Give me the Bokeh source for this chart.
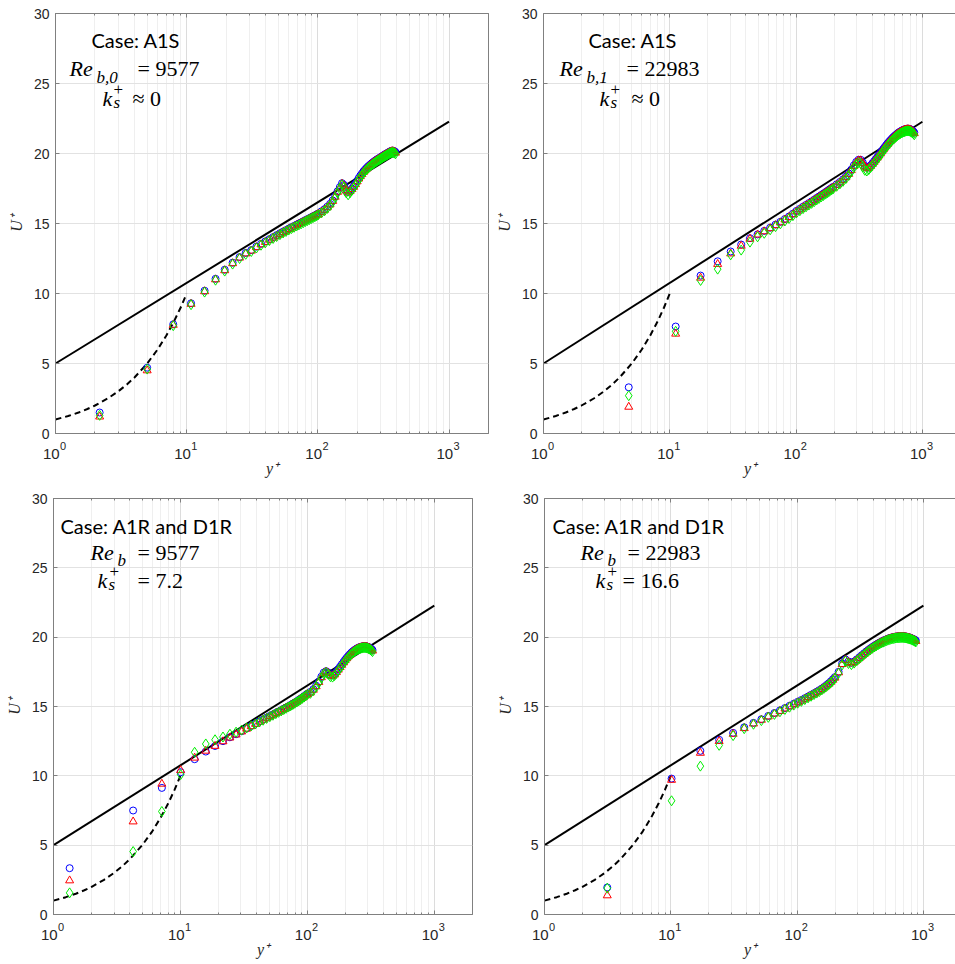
from bokeh.plotting import figure
from bokeh.layouts import column, row
from bokeh.models import Range1d, FixedTicker, LogAxis, CustomJSTickFormatter, Label
from bokeh.embed import file_html
from bokeh.resources import INLINE

# ---------------- axis ticks ----------------
X_MAJOR = [1, 10, 100, 1000]
X_EXPONENTS = ["0", "1", "2", "3"]
X_MINOR = [m * 10 ** e for e in range(4) for m in range(2, 10)]
Y_TICKS = [0, 5, 10, 15, 20, 25, 30]

# ---------------- reference curves ----------------
LOGLAW_Y = [1, 1000]
LOGLAW_U = [5.0, 22.27]
VISC_Y = [1, 1.25, 1.5, 1.75, 2, 2.5, 3, 3.5, 4, 5, 6, 7, 8, 9, 10]
VISC_U = [1, 1.25, 1.5, 1.75, 2, 2.5, 3, 3.5, 4, 5, 6, 7, 8, 9, 10]

# ---------------- panel A1S, Re_b,0 = 9577 ----------------
TL_Y = [2.17, 5.0, 7.9, 10.8, 13.7, 16.6, 19.5, 22.4, 25.3, 28.2, 31.1, 34.0, 36.9, 39.8, 42.7,
        45.6, 48.5, 51.4, 54.3, 57.2, 60.1, 63.0, 65.9, 68.8, 71.7, 74.6, 77.5, 80.4, 83.3, 86.2,
        89.1, 92.0, 94.9, 97.8, 100.7,
        106.5, 112.3, 118.1, 123.9, 129.7, 135.5, 141.3, 147.1, 152.9, 158.7, 164.5, 170.3, 176.1,
        181.9, 187.7, 193.5, 199.3, 205.1, 210.9, 216.7, 222.5, 228.3, 234.1, 239.9, 245.7, 251.5,
        257.3, 263.1, 268.9, 274.7, 280.5, 286.3, 292.1, 297.9, 303.7, 309.5, 315.3, 321.1, 326.9,
        332.7, 338.5, 344.3, 350.1, 355.9, 361.7, 367.5, 373.3, 379.1, 384.9, 390.7]
TL_BLUE = [1.5, 4.7, 7.8, 9.3, 10.2, 11.05, 11.7, 12.2, 12.6, 12.9, 13.1, 13.35, 13.55, 13.72, 13.88,
           14.03, 14.17, 14.3, 14.42, 14.53, 14.64, 14.74, 14.83, 14.92, 15.0, 15.08, 15.16, 15.24,
           15.31, 15.38, 15.45, 15.52, 15.58, 15.65, 15.72,
           15.87, 16.02, 16.2, 16.4, 16.65, 16.95, 17.3, 17.6, 17.88, 17.75, 17.4, 17.25, 17.35, 17.5,
           17.66, 17.85, 18.05, 18.25, 18.42, 18.57, 18.72, 18.84, 18.95, 19.05, 19.14, 19.22, 19.3,
           19.37, 19.44, 19.5, 19.56, 19.61, 19.66, 19.71, 19.76, 19.81, 19.86, 19.91, 19.95, 19.99,
           20.03, 20.07, 20.11, 20.15, 20.18, 20.2, 20.2, 20.18, 20.15, 20.1]
TL_RED = [1.2, 4.5, 7.75, 9.25, 10.15, 11.0, 11.65, 12.15, 12.55, 12.85, 13.05, 13.3, 13.5, 13.67,
          13.83, 13.98, 14.12, 14.25, 14.37, 14.48, 14.59, 14.69, 14.78, 14.87, 14.95, 15.03, 15.11,
          15.19, 15.26, 15.33, 15.4, 15.47, 15.53, 15.6, 15.67,
          15.82, 15.97, 16.15, 16.35, 16.6, 16.9, 17.25, 17.55, 17.83, 17.7, 17.35, 17.2, 17.3, 17.45,
          17.61, 17.8, 18.0, 18.2, 18.37, 18.52, 18.67, 18.79, 18.9, 19.0, 19.09, 19.17, 19.25,
          19.32, 19.39, 19.45, 19.51, 19.56, 19.61, 19.66, 19.71, 19.76, 19.81, 19.86, 19.9, 19.94,
          19.98, 20.02, 20.06, 20.1, 20.13, 20.15, 20.15, 20.13, 20.1, 20.05]
TL_GREEN = [1.3, 4.6, 7.7, 9.2, 10.1, 10.95, 11.6, 12.1, 12.5, 12.8, 13.0, 13.25, 13.45, 13.62, 13.78,
            13.93, 14.07, 14.2, 14.32, 14.43, 14.54, 14.64, 14.73, 14.82, 14.9, 14.98, 15.06, 15.14,
            15.21, 15.28, 15.35, 15.42, 15.48, 15.55, 15.62,
            15.75, 15.9, 16.08, 16.28, 16.53, 16.83, 17.18, 17.48, 17.76, 17.6, 17.2, 17.05, 17.2,
            17.38, 17.54, 17.73, 17.93, 18.13, 18.3, 18.45, 18.6, 18.72, 18.83, 18.93, 19.02, 19.1,
            19.18, 19.25, 19.32, 19.38, 19.44, 19.49, 19.54, 19.59, 19.64, 19.69, 19.74, 19.79, 19.83,
            19.87, 19.91, 19.95, 19.99, 20.03, 20.06, 20.08, 20.08, 20.06, 20.03, 19.98]

# ---------------- panel A1S, Re_b,1 = 22983 ----------------
TR_Y = [4.73, 11.13, 17.53, 23.93, 30.33, 36.73, 43.13, 49.53, 55.93, 62.33, 68.73, 75.13, 81.53,
        87.93, 94.33, 100.73,
        107.1, 113.5, 119.9, 126.3, 132.7, 139.1, 145.5, 151.9, 158.3, 164.7, 171.1, 177.5, 183.9,
        190.3, 196.7,
        209.5, 222.3, 235.1, 247.9, 260.7, 273.5, 286.3, 299.1, 311.9, 324.7, 337.5, 350.3, 363.1,
        375.9, 388.7, 401.5, 414.3, 427.1, 439.9, 452.7, 465.5, 478.3, 491.1, 503.9, 516.7, 529.5,
        542.3, 555.1, 567.9, 580.7, 593.5, 606.3, 619.1, 631.9, 644.7, 657.5, 670.3, 683.1, 695.9,
        708.7, 721.5, 734.3, 747.1, 759.9, 772.7, 785.5, 798.3, 811.1, 823.9, 836.7, 849.5, 862.3]
TR_BLUE = [3.3, 7.64, 11.28, 12.3, 13.0, 13.5, 13.95, 14.22, 14.47, 14.7, 14.92, 15.12, 15.32, 15.5,
           15.7, 15.9,
           16.05, 16.2, 16.33, 16.46, 16.58, 16.7, 16.82, 16.93, 17.04, 17.14, 17.24, 17.34, 17.44,
           17.53, 17.62,
           17.8, 17.97, 18.15, 18.35, 18.58, 18.85, 19.15, 19.4, 19.55, 19.55, 19.35, 19.1, 18.98,
           19.02, 19.15, 19.3, 19.45, 19.6, 19.75, 19.9, 20.05, 20.2, 20.34, 20.47, 20.6, 20.72,
           20.83, 20.93, 21.03, 21.12, 21.2, 21.28, 21.35, 21.42, 21.48, 21.53, 21.58, 21.62, 21.66,
           21.69, 21.72, 21.74, 21.76, 21.77, 21.77, 21.76, 21.74, 21.71, 21.67, 21.62, 21.56, 21.49]
TR_RED = [1.9, 7.12, 11.12, 12.1, 12.85, 13.4, 13.9, 14.2, 14.43, 14.65, 14.87, 15.07, 15.27, 15.45,
          15.65, 15.85,
          16.0, 16.15, 16.28, 16.41, 16.53, 16.65, 16.77, 16.88, 16.99, 17.09, 17.19, 17.29, 17.39,
          17.48, 17.57,
          17.75, 17.92, 18.1, 18.3, 18.53, 18.8, 19.1, 19.35, 19.5, 19.5, 19.3, 19.05, 18.93, 18.97,
          19.1, 19.25, 19.4, 19.55, 19.7, 19.85, 20.0, 20.15, 20.29, 20.42, 20.55, 20.67, 20.78,
          20.88, 20.98, 21.07, 21.15, 21.23, 21.3, 21.37, 21.43, 21.48, 21.53, 21.57, 21.61, 21.64,
          21.67, 21.69, 21.71, 21.72, 21.72, 21.71, 21.69, 21.66, 21.62, 21.57, 21.51, 21.44]
TR_GREEN = [2.7, 7.3, 10.93, 11.74, 12.76, 13.1, 13.67, 14.05, 14.3, 14.55, 14.78, 14.98, 15.18,
            15.36, 15.56, 15.76,
            15.91, 16.06, 16.19, 16.32, 16.44, 16.56, 16.68, 16.79, 16.9, 17.0, 17.1, 17.2, 17.3,
            17.39, 17.48,
            17.66, 17.83, 18.01, 18.21, 18.44, 18.71, 19.0, 19.22, 19.35, 19.3, 19.05, 18.8, 18.75,
            18.85, 19.0, 19.15, 19.3, 19.45, 19.6, 19.75, 19.9, 20.05, 20.19, 20.32, 20.45, 20.57,
            20.68, 20.78, 20.88, 20.97, 21.05, 21.13, 21.2, 21.27, 21.33, 21.38, 21.43, 21.47, 21.51,
            21.54, 21.57, 21.59, 21.61, 21.62, 21.62, 21.61, 21.59, 21.56, 21.52, 21.47, 21.41, 21.34]

# ---------------- panel A1R and D1R, Re_b = 9577 ----------------
BL_Y = [1.34, 4.24, 7.14, 10.04, 12.94, 15.84, 18.74, 21.64, 24.54, 27.44, 30.34, 33.24, 36.14,
        39.04, 41.94, 44.84, 47.74, 50.64, 53.54, 56.44, 59.34, 62.24, 65.14, 68.04, 70.94, 73.84,
        76.74, 79.64, 82.54, 85.44, 88.34, 91.24, 94.14, 97.04, 99.94,
        105.7, 111.5, 117.3, 123.1, 128.9, 134.7, 140.5, 146.3, 152.1, 157.9, 163.7, 169.5, 175.3,
        181.1, 186.9, 192.7, 198.5, 204.3, 210.1, 215.9, 221.7, 227.5, 233.3, 239.1, 244.9, 250.7,
        256.5, 262.3, 268.1, 273.9, 279.7, 285.5, 291.3, 297.1, 302.9, 308.7, 314.5, 320.3, 326.1]
BL_BLUE = [3.34, 7.5, 9.13, 10.26, 11.2, 11.75, 12.15, 12.5, 12.78, 13.0, 13.22, 13.42, 13.6, 13.77,
           13.93, 14.07, 14.2, 14.32, 14.43, 14.54, 14.64, 14.74, 14.84, 14.93, 15.02, 15.11, 15.2,
           15.29, 15.38, 15.47, 15.56, 15.65, 15.74, 15.83, 15.92,
           16.05, 16.25, 16.5, 16.8, 17.15, 17.45, 17.55, 17.45, 17.28, 17.25, 17.35, 17.52, 17.7,
           17.88, 18.05, 18.22, 18.38, 18.52, 18.65, 18.77, 18.88, 18.97, 19.05, 19.12, 19.18, 19.23,
           19.27, 19.3, 19.32, 19.34, 19.35, 19.35, 19.34, 19.32, 19.29, 19.25, 19.2, 19.14, 19.07]
BL_RED = [2.45, 6.7, 9.42, 10.4, 11.3, 11.8, 12.15, 12.48, 12.75, 12.97, 13.19, 13.39, 13.57, 13.74,
          13.9, 14.04, 14.17, 14.29, 14.4, 14.51, 14.61, 14.71, 14.81, 14.9, 14.99, 15.08, 15.17,
          15.26, 15.35, 15.44, 15.53, 15.62, 15.71, 15.8, 15.89,
          16.0, 16.2, 16.45, 16.75, 17.1, 17.4, 17.5, 17.4, 17.23, 17.2, 17.3, 17.47, 17.65, 17.83,
          18.0, 18.17, 18.33, 18.47, 18.6, 18.72, 18.83, 18.92, 19.0, 19.07, 19.13, 19.18, 19.22,
          19.25, 19.27, 19.29, 19.3, 19.3, 19.29, 19.27, 19.24, 19.2, 19.15, 19.09, 19.02]
BL_GREEN = [1.56, 4.54, 7.43, 10.09, 11.7, 12.3, 12.6, 12.8, 13.0, 13.15, 13.3, 13.45, 13.6, 13.74,
            13.88, 14.01, 14.14, 14.26, 14.37, 14.48, 14.58, 14.68, 14.78, 14.87, 14.96, 15.05,
            15.14, 15.23, 15.32, 15.41, 15.5, 15.59, 15.68, 15.77, 15.86,
            15.95, 16.15, 16.4, 16.7, 17.05, 17.35, 17.45, 17.32, 17.15, 17.12, 17.23, 17.41, 17.59,
            17.77, 17.94, 18.11, 18.27, 18.41, 18.54, 18.66, 18.77, 18.86, 18.94, 19.01, 19.07,
            19.12, 19.16, 19.19, 19.21, 19.23, 19.24, 19.24, 19.23, 19.21, 19.18, 19.14, 19.09,
            19.03, 18.96]

# ---------------- panel A1R and D1R, Re_b = 22983 ----------------
BR_Y = [3.14, 10.14, 17.14, 24.14, 31.14, 38.14, 45.14, 52.14, 59.14, 66.14, 73.14, 80.14, 87.14,
        94.14, 101.1, 108.1, 115.1, 122.1, 129.1, 136.1, 143.1, 150.1, 157.1, 164.1, 171.1, 178.1,
        185.1, 192.1, 199.1,
        213.1, 227.1, 241.1, 255.1, 269.1, 283.1, 297.1, 311.1, 325.1, 339.1, 353.1, 367.1, 381.1,
        395.1, 409.1, 423.1, 437.1, 451.1, 465.1, 479.1, 493.1, 507.1, 521.1, 535.1, 549.1, 563.1,
        577.1, 591.1, 605.1, 619.1, 633.1, 647.1, 661.1, 675.1, 689.1, 703.1, 717.1, 731.1, 745.1,
        759.1, 773.1, 787.1, 801.1, 815.1, 829.1, 843.1, 857.1, 871.1]
BR_BLUE = [1.95, 9.8, 11.8, 12.6, 13.1, 13.5, 13.82, 14.08, 14.32, 14.53, 14.72, 14.89, 15.05, 15.2,
           15.34, 15.47, 15.6, 15.72, 15.84, 15.96, 16.07, 16.18, 16.3, 16.42, 16.55, 16.68, 16.82,
           16.97, 17.12,
           17.5, 18.1, 18.4, 18.25, 18.15, 18.25, 18.4, 18.55, 18.7, 18.84, 18.97, 19.09, 19.2, 19.3,
           19.39, 19.47, 19.55, 19.62, 19.68, 19.74, 19.79, 19.84, 19.88, 19.92, 19.95, 19.98, 20.0,
           20.02, 20.04, 20.05, 20.06, 20.07, 20.07, 20.07, 20.07, 20.06, 20.05, 20.04, 20.02, 20.0,
           19.98, 19.96, 19.93, 19.9, 19.87, 19.84, 19.8, 19.76]
BR_RED = [1.37, 9.7, 11.65, 12.5, 13.02, 13.43, 13.76, 14.03, 14.27, 14.48, 14.67, 14.84, 15.0, 15.15,
          15.29, 15.42, 15.55, 15.67, 15.79, 15.91, 16.02, 16.13, 16.25, 16.37, 16.5, 16.63, 16.77,
          16.92, 17.07,
          17.45, 18.05, 18.35, 18.2, 18.1, 18.2, 18.35, 18.5, 18.65, 18.79, 18.92, 19.04, 19.15,
          19.25, 19.34, 19.42, 19.5, 19.57, 19.63, 19.69, 19.74, 19.79, 19.83, 19.87, 19.9, 19.93,
          19.95, 19.97, 19.99, 20.0, 20.01, 20.02, 20.02, 20.02, 20.02, 20.01, 20.0, 19.99, 19.97,
          19.95, 19.93, 19.91, 19.88, 19.85, 19.82, 19.79, 19.75, 19.71]
BR_GREEN = [1.9, 8.2, 10.7, 12.2, 12.9, 13.4, 13.72, 13.98, 14.22, 14.43, 14.62, 14.79, 14.95, 15.1,
            15.24, 15.37, 15.5, 15.62, 15.74, 15.86, 15.97, 16.08, 16.2, 16.32, 16.45, 16.58, 16.72,
            16.87, 17.02,
            17.4, 18.0, 18.28, 18.1, 18.02, 18.13, 18.3, 18.45, 18.6, 18.74, 18.87, 18.99, 19.1,
            19.2, 19.29, 19.37, 19.45, 19.52, 19.58, 19.64, 19.69, 19.74, 19.78, 19.82, 19.85,
            19.88, 19.9, 19.92, 19.94, 19.95, 19.96, 19.97, 19.97, 19.97, 19.97, 19.96, 19.95,
            19.94, 19.92, 19.9, 19.88, 19.86, 19.83, 19.8, 19.77, 19.74, 19.7, 19.66]

SANS = "Lato"
SERIF = "Liberation Serif"
TICK_FONT = "Liberation Sans"
AX_COLOR = "#808080"
TXT_COLOR = "#262626"

# x tick labels 10^n: exponent row (nearest the frame) and base row "10" below it;
# non-breaking spaces shift each part so that together they are centred on the tick.
exp_formatter = CustomJSTickFormatter(
    args=dict(exp_labels=X_EXPONENTS, major_vals=X_MAJOR),
    code="""
const i = major_vals.indexOf(Math.round(tick));
const e = i >= 0 ? exp_labels[i] : '';
return '\u00a0\u00a0\u00a0\u00a0\u00a0' + e;
""")
base_formatter = CustomJSTickFormatter(code="return '10\u00a0\u00a0';")
blank_formatter = CustomJSTickFormatter(code="return ' ';")


def make_panel(ys, blue, red, green, xmax, fw, fh, bl, br, bt, bb, box_right, texts):
    p = figure(x_axis_type="log", x_range=Range1d(1, xmax), y_range=Range1d(0, 30),
               frame_width=fw, frame_height=fh, min_border_left=bl, min_border_right=br,
               min_border_top=bt, min_border_bottom=bb, toolbar_location=None,
               output_backend="svg", background_fill_color="white", border_fill_color="white")
    p.outline_line_color = AX_COLOR if box_right else None

    xt = FixedTicker(ticks=X_MAJOR, minor_ticks=X_MINOR)
    yt = FixedTicker(ticks=Y_TICKS, minor_ticks=[])
    p.xaxis.ticker = xt
    p.yaxis.ticker = yt
    for ax in (p.xaxis[0], p.yaxis[0]):
        ax.axis_line_color = AX_COLOR
        ax.major_tick_line_color = AX_COLOR
        ax.minor_tick_line_color = AX_COLOR
        ax.major_tick_in = 4
        ax.major_tick_out = 0
        ax.minor_tick_in = 2
        ax.minor_tick_out = 0
        ax.major_label_text_font = TICK_FONT
        ax.major_label_text_color = TXT_COLOR
    # exponent row
    p.xaxis.formatter = exp_formatter
    p.xaxis.major_label_text_font_size = "11px"
    p.xaxis.major_label_standoff = 6
    # base row "10" with the axis title
    base = LogAxis(ticker=xt, formatter=base_formatter, axis_line_color=None,
                   major_tick_line_color=None, minor_tick_line_color=None,
                   major_tick_in=0, major_tick_out=0, minor_tick_in=0, minor_tick_out=0,
                   major_label_text_font=TICK_FONT, major_label_text_font_size="15px",
                   major_label_text_color=TXT_COLOR, major_label_standoff=-10,
                   axis_label="y\u207a", axis_label_text_font=SERIF,
                   axis_label_text_font_style="italic", axis_label_text_font_size="16px",
                   axis_label_text_color=TXT_COLOR, axis_label_standoff=-5)
    p.add_layout(base, "below")

    p.yaxis.major_label_text_font_size = "14px"
    p.yaxis.major_label_standoff = 6
    p.yaxis.axis_label = "U\u207a"
    p.yaxis.axis_label_text_font = SERIF
    p.yaxis.axis_label_text_font_style = "italic"
    p.yaxis.axis_label_text_font_size = "16px"
    p.yaxis.axis_label_text_color = TXT_COLOR
    p.yaxis.axis_label_standoff = 6

    top = LogAxis(ticker=xt, formatter=blank_formatter, axis_line_color=AX_COLOR,
                  major_tick_line_color=AX_COLOR, minor_tick_line_color=AX_COLOR,
                  major_tick_in=4, major_tick_out=0, minor_tick_in=2, minor_tick_out=0,
                  major_label_text_font_size="2px", major_label_standoff=0)
    p.add_layout(top, "above")

    p.xgrid.ticker = xt
    p.xgrid.grid_line_color = "#dcdcdc"
    p.xgrid.minor_grid_line_color = "#efefef"
    p.ygrid.ticker = yt
    p.ygrid.grid_line_color = "#e2e2e2"

    p.line(LOGLAW_Y, LOGLAW_U, line_color="black", line_width=2)
    p.line(VISC_Y, VISC_U, line_color="black", line_width=2, line_dash="6 4")

    n = min(len(ys), len(blue), len(red), len(green))
    p.scatter(ys[:n], blue[:n], marker="circle", size=7, fill_color=None,
              line_color="#0000ff", line_width=1)
    p.scatter(ys[:n], red[:n], marker="triangle", size=8, fill_color=None,
              line_color="#ff0000", line_width=1)
    p.scatter(ys[:n], green[:n], marker="diamond", size=10, fill_color=None,
              line_color="#00ee00", line_width=1)

    for (txt, font, size, style, dx, dy) in texts:
        p.add_layout(Label(x=1, y=30, x_offset=dx, y_offset=-dy, text=txt,
                           text_font=font, text_font_size=size, text_font_style=style,
                           text_color="black", text_align="left",
                           text_baseline="alphabetic"))
    return p


BIG = "22px"
SUB = "17px"
CASE = "20px"

tl_text = [("Case: A1S", SANS, CASE, "normal", 36, 26),
           ("Re", SERIF, BIG, "italic", 14, 55),
           ("b,0", SERIF, SUB, "italic", 41, 64),
           ("= 9577", SERIF, BIG, "normal", 82, 55),
           ("k", SERIF, BIG, "italic", 47, 85),
           ("s", SERIF, SUB, "italic", 58, 89),
           ("+", SERIF, SUB, "normal", 58, 76),
           ("\u2248 0", SERIF, BIG, "normal", 77, 85)]
tr_text = [("Case: A1S", SANS, CASE, "normal", 45, 26),
           ("Re", SERIF, BIG, "italic", 16, 55),
           ("b,1", SERIF, SUB, "italic", 43, 64),
           ("= 22983", SERIF, BIG, "normal", 83, 55),
           ("k", SERIF, BIG, "italic", 56, 85),
           ("s", SERIF, SUB, "italic", 67, 89),
           ("+", SERIF, SUB, "normal", 67, 76),
           ("\u2248 0", SERIF, BIG, "normal", 88, 85)]
bl_text = [("Case: A1R and D1R", SANS, CASE, "normal", 7, 27),
           ("Re", SERIF, BIG, "italic", 37, 54),
           ("b", SERIF, SUB, "italic", 64, 62),
           ("= 9577", SERIF, BIG, "normal", 84, 54),
           ("k", SERIF, BIG, "italic", 44, 82),
           ("s", SERIF, SUB, "italic", 55, 86),
           ("+", SERIF, SUB, "normal", 56, 73),
           ("= 7.2", SERIF, BIG, "normal", 84, 82)]
br_text = [("Case: A1R and D1R", SANS, CASE, "normal", 8, 27),
           ("Re", SERIF, BIG, "italic", 36, 54),
           ("b", SERIF, SUB, "italic", 63, 62),
           ("= 22983", SERIF, BIG, "normal", 83, 54),
           ("k", SERIF, BIG, "italic", 51, 82),
           ("s", SERIF, SUB, "italic", 62, 86),
           ("+", SERIF, SUB, "normal", 63, 73),
           ("= 16.6", SERIF, BIG, "normal", 78, 82)]

p1 = make_panel(TL_Y, TL_BLUE, TL_RED, TL_GREEN, 2000, 433, 420, 55, 4, 13, 55, True, tl_text)
p2 = make_panel(TR_Y, TR_BLUE, TR_RED, TR_GREEN, 1862, 413, 420, 50, 0, 13, 55, False, tr_text)
p3 = make_panel(BL_Y, BL_BLUE, BL_RED, BL_GREEN, 2000, 419, 416, 53, 4, 10, 50, True, bl_text)
p4 = make_panel(BR_Y, BR_BLUE, BR_RED, BR_GREEN, 1795, 411, 416, 68, 0, 10, 50, False, br_text)

layout = column(row(p1, p2, spacing=0), row(p3, p4, spacing=0), spacing=0)
open("out.html", "w").write(file_html(layout, INLINE))
